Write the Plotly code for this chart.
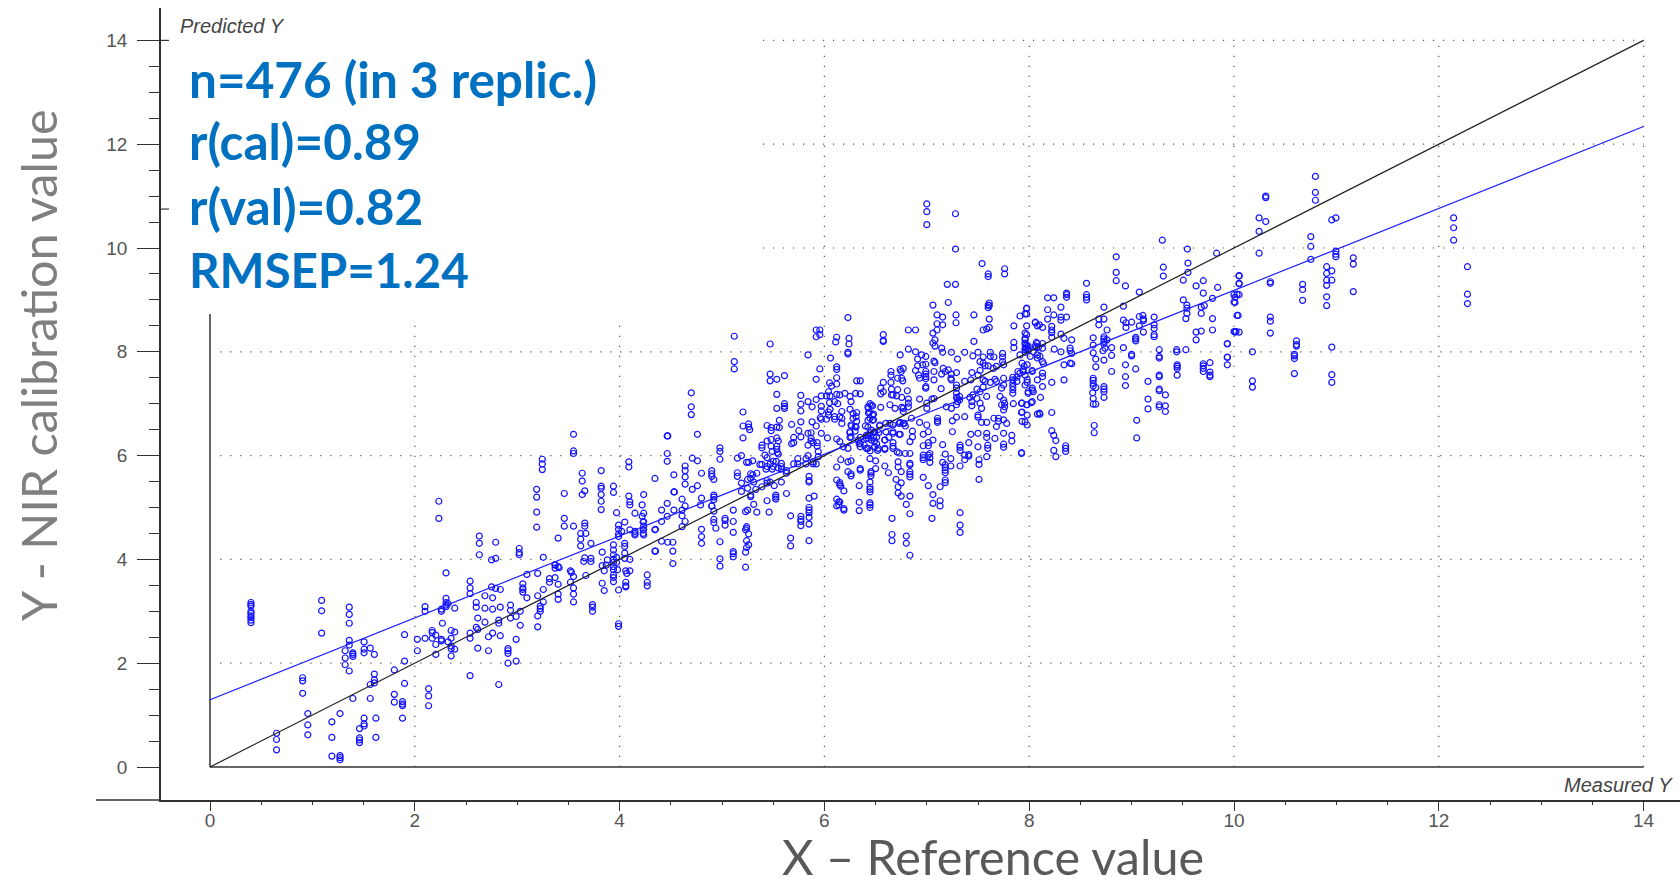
import plotly.graph_objects as go

stacks_low = [
 (0.40,[3.17,3.13,3.10,3.00,2.96,2.91,2.88,2.83,2.78]),(0.65,[0.65,0.53,0.33]),(0.905,[1.72,1.66,1.42]),
 (0.955,[1.03,0.81,0.62]),(1.09,[3.21,3.01,2.58]),(1.19,[0.87,0.57,0.21]),(1.27,[1.03,0.22,0.18,0.14]),
 (1.32,[2.24,2.10,1.97]),(1.36,[3.08,2.94,2.77,2.44,2.35,1.85]),(1.395,[2.20,2.17,2.13,1.32]),
 (1.46,[0.74,0.56,0.52,0.47]),(1.505,[2.41,2.27,2.20,0.94,0.83,0.79]),(1.565,[2.29,1.59,1.32]),
 (1.605,[2.17,1.79,1.68,1.62]),(1.62,[0.94,0.57]),(1.80,[1.87,1.40,1.25]),(1.88,[1.26,1.21,1.18,0.94]),
 (1.90,[2.55,2.04,1.61]),(2.025,[2.46,2.24]),(2.10,[3.09,3.00,2.48]),(2.135,[1.51,1.37,1.18]),
 (2.17,[2.63,2.59,2.48]),(2.205,[2.54,2.36,2.17]),(2.26,[3.04,3.00,2.46,2.43]),(2.27,[2.77]),
 (2.305,[3.74,3.25,3.17,3.12,3.09]),(2.325,[3.15,2.41]),(2.355,[2.63,2.48,2.33,2.28,2.14]),
 (2.39,[3.06,2.60,2.27]),(2.54,[3.58,3.45,3.34,2.58,2.48,1.76]),(2.60,[3.17,3.08,2.69]),
 (2.615,[2.87,2.65,2.29]),(2.685,[3.30,3.06,2.79]),(2.72,[2.51,2.24]),(2.75,[3.47,3.99]),
 (2.76,[3.26,3.04,2.58]),(2.79,[3.44,4.33,4.02]),(2.82,[2.83,2.77,1.59]),(2.835,[3.42,3.08,2.53]),
 (2.91,[2.28,2.24,2.19,2.00]),(2.935,[3.12,3.02,2.87]),(2.99,[2.90,2.46,2.04]),(3.03,[3.00,2.73]),
 (3.055,[3.53,3.45,3.42,3.37]),(3.095,[3.71,3.26]),(3.20,[3.73,3.30,2.91,2.70]),(3.225,[3.10,3.05,3.00]),
 (3.255,[3.42,3.18,4.04]),(3.315,[3.63,3.56]),(3.37,[3.90,3.83,3.65,3.89]),(3.40,[3.86,3.52,3.33,3.23,4.41]),
 (3.52,[3.78,3.56]),(3.55,[3.67,3.45,3.33,3.18,4.64]),(3.67,[3.69,4.50]),(3.735,[3.13,3.08,3.00]),
 (2.63,[4.45,4.31,4.09]),(3.02,[4.21,4.13,4.09]),(3.19,[4.62]),(3.46,[4.64]),(3.66,[4.70,4.64,4.03]),
 (3.62,[4.50,4.39,4.26]),(3.72,[4.31,4.02,3.96]),(3.83,[4.14,3.88,3.54]),(3.65,[3.96]),(3.41,[3.84]),
 (3.53,[3.75]),
]
stacks_four = [
 (3.88,[3.99]),(3.87,[3.89]),(3.85,[3.78,3.40]),(3.94,[4.28,4.18,4.09,4.00,3.94,3.86,3.80,3.70,3.65,3.57,5.41,5.29]),
 (3.97,[4.04,3.94,4.90]),(3.98,[3.80]),(3.99,[4.66,4.58,4.49,4.44,3.41,2.76,2.71]),(4.02,[4.54]),
 (4.05,[4.72,4.31,4.25,4.12,4.02]),(4.06,[3.78,3.56,3.49,3.47]),(4.10,[4.57,4.00,3.78,5.11,5.05]),
 (4.15,[4.54,4.47,4.89,4.50]),(4.23,[4.72,4.57,4.50]),(4.27,[3.70,3.56,3.49]),(4.35,[4.58,4.16]),
 (2.235,[5.12,4.79]),(3.245,[5.93,5.84,5.73]),(3.19,[5.35,5.20,4.91]),(3.55,[6.41,6.09,6.04]),
 (3.46,[5.27,4.79]),(3.635,[5.66,5.51,5.25]),(3.66,[5.32]),(3.82,[5.71,5.41,5.37,5.25,5.12,4.96]),
 (4.09,[5.88,5.78,5.22]),(4.235,[5.25,4.89,4.73,4.64,4.57,4.47]),(4.22,[5.05,4.83]),(4.345,[5.56,4.57,4.16]),
 (4.465,[6.38,6.04,5.89,5.08,4.83]),(4.41,[4.73,4.35,4.95]),(4.47,[4.33,6.38]),(4.52,[4.33,4.16,3.92]),
 (4.53,[5.63,5.30,4.95]),(4.64,[5.80,5.71,5.59,5.45,4.73,5.03]),(4.61,[5.16,4.95,4.84,4.63]),
 (4.71,[5.95,5.35]),(4.76,[6.41,5.90,5.42]),(4.70,[6.94,6.79,7.21]),(4.07,[3.73]),
]
stacks_five_upper = [
 (5.12,[8.30,7.81,7.67]),(5.47,[8.15,7.57,7.44]),(5.84,[7.94,7.04,6.43,6.20]),(5.92,[8.42,8.29,7.47,7.08,6.57]),
 (5.955,[8.42,8.33,7.67]),(6.12,[8.28,7.71,7.66,7.50,7.38,7.18,6.32]),(6.11,[8.19]),(6.06,[7.88]),(5.535,[7.47,7.18,6.91,6.55,6.34,6.18,6.12]),
 (5.61,[7.54,7.00,6.95,6.91]),(6.05,[7.40,7.02]),(6.07,[7.34]),(6.04,[7.23,6.84,6.78]),(6.02,[7.15,6.70]),
 (6.055,[7.15,6.89]),(5.97,[7.15,6.95,6.86,6.70,6.43]),(5.77,[7.16,6.99,6.86,6.65,6.36]),(5.88,[6.94,6.65]),
 (6.10,[7.04,6.75,6.70]),(6.13,[7.00]),(5.205,[6.84,6.57,6.34]),(5.96,[6.73]),(6.15,[6.75]),(5.56,[6.68,6.54]),
 (5.26,[6.61,6.55]),(5.27,[6.50]),(5.44,[6.58,6.28]),(5.48,[6.54,6.48,6.31,6.18]),(5.68,[6.60,6.23]),
 (5.75,[6.48]),(5.87,[6.44,6.33,6.28]),(6.03,[6.34]),(5.70,[6.35,6.25]),(5.55,[6.28]),(5.89,[6.25]),
 (5.93,[6.25,6.18]),(5.39,[6.20,6.15]),(4.98,[6.15]),
]
stacks_five_lower = [
 (4.98,[6.08,5.93,4.34,4.01,3.87]),(5.15,[5.95,5.67,5.60]),(5.19,[6.00,5.47,5.31]),(4.80,[5.66,5.18,4.58,4.44,4.31]),
 (4.90,[5.71,5.65,5.60,5.03]),(4.92,[5.54,5.24,5.20,5.15,4.93,4.77,4.71]),(4.535,[5.30]),(5.24,[5.87,4.63,4.60,4.36,4.23]),
 (5.26,[5.87,4.49,4.28]),(5.30,[5.90,5.63]),(5.37,[5.83]),(5.42,[6.01]),(5.44,[5.96,5.79,5.52,5.47,5.13]),
 (5.49,[6.08,5.74]),(5.54,[6.06]),(5.55,[6.03,5.76]),(5.39,[5.83,5.40]),(5.47,[5.84,5.49]),(5.50,[5.89,5.79]),
 (5.53,[5.89]),(5.43,[5.74]),(5.58,[5.85,5.79,5.74,5.49]),(5.63,[5.71,5.66,5.27]),(5.70,[5.84]),(5.74,[5.94,5.84]),
 (5.82,[5.94,5.84]),(5.84,[6.00]),(5.89,[5.88,5.84]),(5.94,[6.08,5.98]),(5.92,[5.84]),(5.85,[5.60,5.52,5.49,5.18,5.00,4.95,4.90,4.81,4.68,4.36]),
 (6.12,[5.78,5.53,5.16,5.03]),(5.34,[5.66,4.91]),(5.28,[5.65,5.56,5.24,5.21]),(5.25,[5.54,5.37,4.95]),(5.31,[5.49,5.06]),
 (5.33,[5.35]),(5.51,[5.42]),(5.90,[5.22]),(5.525,[5.24,5.20,5.16]),(6.14,[5.11,5.05]),(4.79,[5.05]),(4.90,[5.03]),
 (4.94,[4.60]),(5.11,[4.95,4.73,4.52,4.15,4.11,4.05]),(5.03,[4.79,4.75,4.66]),(5.23,[4.92,4.57,4.14,3.85]),
 (5.46,[4.91]),(5.67,[4.84,4.41,4.26]),(5.77,[4.83,4.77,4.73,4.65]),(6.15,[5.44]),
]
stacks_six_upper = [
 (6.23,[8.66,7.99,7.96]),(6.575,[8.33,8.22,8.20,7.41,7.23]),(6.24,[8.26,8.15]),(6.82,[8.42,8.05,7.09,7.01,6.94]),(6.89,[8.42,8.00,7.64]),
 (7.06,[8.90,8.36,8.17]),(7.21,[8.95,7.65]),(7.10,[8.71,8.54,8.42]),(7.155,[8.67,8.52,7.99]),(7.285,[8.71,8.56]),
 (7.46,[8.71,8.20]),(7.61,[8.94,8.89,8.63,8.47]),(7.585,[8.44,7.14,6.64]),(7.55,[8.42,7.90,7.78,7.46,7.32]),
 (7.85,[8.50,8.18,8.08]),(7.975,[8.83,8.13,6.98]),(7.91,[8.69,7.94]),(7.96,[8.73,8.36,8.26,8.17,8.07,7.99]),
 (8.06,[8.56]),(8.10,[8.52,6.82]),(7.08,[8.23,8.11,7.79]),(7.145,[8.07,7.57]),(8.07,[8.18,8.08]),(7.99,[8.04,7.20]),
 (6.74,[7.94,7.66,6.64]),(6.95,[7.94]),(6.91,[7.86,7.73]),(6.99,[7.91,7.76,7.62,7.57,7.52,7.48,7.33,7.30]),(6.96,[7.75]),
 (7.24,[7.99,7.57,7.46,6.91]),(7.37,[7.99,7.43,6.75]),(7.30,[7.86,7.10,7.04]),(7.07,[7.82,7.62,7.46,7.10]),
 (7.50,[7.99,7.55,6.78,6.74]),(7.45,[7.92,7.17]),(7.52,[7.81,7.64,7.23,7.01]),(7.62,[7.99,7.91,7.41]),(7.655,[7.90,6.72]),
 (7.57,[7.73,7.43]),(7.60,[7.73]),(7.74,[7.97,7.90,7.81]),(7.75,[7.75,7.49,7.36,7.07,6.88,6.69]),(7.68,[7.72,7.43,6.56]),(7.65,[7.68]),
 (8.01,[7.91]),(8.04,[8.00,7.23]),(7.93,[7.78,7.01,6.84,6.66]),(7.95,[7.72]),(7.98,[7.75,7.41,6.78,6.59]),(8.03,[7.64,7.30]),
 (6.77,[7.68,6.91,6.85,6.62]),(6.75,[7.62]),(6.65,[7.62,7.55,7.41]),(6.92,[7.55]),(6.93,[7.49,7.09,6.64]),(7.16,[7.68]),
 (7.18,[7.62]),(7.29,[7.60,7.36,7.30,7.20,7.12,6.98,6.74]),(7.235,[7.49]),(6.715,[7.49,7.27]),(6.755,[7.49,7.12,6.93]),(6.765,[7.44]),
 (6.655,[7.28,7.17]),(6.315,[7.44,6.83,6.66]),(6.35,[7.44,7.19]),(7.44,[7.60,7.04,6.96]),(7.43,[7.46]),(7.665,[7.47]),
 (7.73,[7.30,6.98]),(7.84,[7.51,7.46,7.39,7.33,7.27,7.20]),(7.88,[7.51,7.43]),(7.89,[7.62]),(7.94,[7.62]),(8.08,[7.46]),
 (6.55,[7.30,7.19,6.93]),(6.67,[7.17]),(6.705,[7.15]),(6.81,[7.25]),(7.14,[7.29]),(7.05,[7.09]),(7.32,[7.14,7.07]),
 (7.42,[7.12]),(7.49,[7.10,7.28]),(7.535,[6.91,6.64]),(7.715,[7.14]),(7.76,[7.01,6.94]),(7.845,[7.00]),(8.02,[7.02]),
 (7.00,[7.01,6.91,6.59]),(7.19,[6.94]),(6.15,[7.17]),(6.20,[7.20]),(6.25,[7.14,6.89]),(6.305,[7.20]),(6.26,[7.04]),
 (6.445,[7.00,6.72]),(6.47,[6.96]),(6.43,[6.91,6.82]),(6.64,[6.98,6.62]),(6.69,[6.91]),(6.48,[6.80,6.69]),(6.17,[6.85,6.72,6.62]),
 (7.25,[6.67]),(7.105,[6.72,6.67,6.64]),(7.70,[6.72,6.66]),(7.78,[6.62]),(6.54,[6.57]),(6.85,[6.72]),(6.79,[6.57]),
 (6.28,[6.72]),(6.30,[6.56]),(6.265,[6.57]),(6.40,[6.57]),
]
stacks_six_lower = [
 (6.25,[6.44,6.35]),(6.30,[6.47]),(6.35,[6.35,6.23,6.17,5.75,5.72]),(6.33,[6.30]),(6.41,[6.39,6.14]),(6.445,[6.44,6.09,5.94,5.49,5.39,5.35,5.30,5.09,5.05,5.00]),
 (6.48,[6.44,6.35]),(6.53,[6.44]),(6.43,[6.33]),(6.49,[6.28,6.17]),(6.15,[6.27,5.48,5.11]),(6.185,[6.17]),(6.23,[6.14,5.88,5.69]),
 (6.525,[6.14]),(6.59,[6.30,6.12,5.80]),(6.63,[6.35]),(6.67,[6.46,6.25,6.18,6.14]),(6.74,[6.41]),(6.86,[6.47,6.36]),(6.835,[6.27,6.04,5.85,5.82,5.69,5.64,5.59,5.22,4.88,4.08]),
 (6.965,[6.41,6.19,6.01,5.96,5.92,5.58]),(7.015,[6.46,6.19,6.25,6.01,5.42]),(6.71,[6.07]),(6.73,[6.05]),(6.79,[6.04]),(7.06,[6.30,5.25,5.08]),
 (7.155,[6.21,5.87]),(7.25,[6.46]),(7.325,[6.20,6.16,6.10,5.80,4.90,4.66,4.52]),(7.41,[6.25,6.02,5.99]),(7.43,[6.41]),(7.50,[6.43,6.17]),
 (7.585,[6.43,6.35,5.98]),(7.665,[6.33]),(7.75,[6.43,6.22,6.16]),(7.83,[6.39,6.28]),(7.595,[6.20,6.14]),(7.925,[6.04]),(7.03,[6.04,5.96,5.87]),
 (7.18,[6.03,5.82,5.77,5.72,5.67,5.53,5.48]),(7.235,[5.94,5.80]),(7.37,[6.01,5.92]),(7.51,[5.92,5.83,5.54]),(6.50,[5.90,5.75]),(6.26,[5.90,5.65,5.61]),
 (6.16,[5.92,5.41]),(6.455,[5.69,5.66,5.61]),(6.625,[5.67]),(6.72,[5.88,5.78,5.40,5.28]),(6.75,[5.69,5.475,5.22]),(6.70,[5.54]),
 (6.34,[5.42,5.10,4.94]),(6.19,[5.32,4.98,4.95]),(7.13,[5.40,5.13,5.03]),(6.80,[5.06,4.45,4.31]),(6.66,[4.79,4.48,4.36]),(7.05,[4.79]),
]
stacks_center = [
 (6.425,[6.94,6.68,6.55,6.39,6.14]),(6.458,[6.97,6.49,6.30]),(6.44,[6.84]),(6.47,[6.78,6.68]),(6.49,[6.46,6.17]),(6.51,[6.36,6.23]),
 (6.41,[6.33]),(6.28,[6.81]),(6.31,[6.75,6.55]),(6.26,[6.59,6.36]),(6.25,[6.46]),(6.34,[6.23]),(6.39,[6.20]),(6.54,[6.59]),
 (6.60,[6.62,6.46]),(6.67,[6.59,6.43]),(6.73,[6.62,6.41]),(6.78,[6.62]),(6.59,[6.30,6.14]),(6.52,[6.10]),
]
stacks_eight = [
 (8.85,[9.83,9.53,9.37]),(9.31,[9.63,9.46]),(9.55,[9.71,9.53]),(9.505,[9.38,9.00]),(10.05,[9.46,9.31,9.10,8.38]),(8.56,[9.32,9.10,9.05,9.00]),
 (8.94,[9.27,7.75,7.52,7.35]),(9.63,[9.27,8.38,8.23]),(9.70,[9.37,9.13,7.77,7.73,7.68,7.62]),(9.84,[9.24]),(9.075,[9.15,8.68,8.50]),
 (8.18,[9.04,8.81,8.63]),(8.24,[9.04,8.71,6.39,6.10]),(8.365,[9.13,9.10,9.05,8.67]),(9.54,[8.90,8.84,8.74]),(9.68,[8.86,8.74,8.40]),
 (9.71,[8.89]),(9.79,[9.03,8.64,8.42]),(10.01,[9.05,8.95,8.38]),(8.31,[8.86,8.67,8.61,8.34,8.00]),(8.73,[8.86,8.63,8.29,8.25,8.20,8.15,7.84,7.33,7.28,7.23,7.12]),
 (8.92,[8.88,8.61,8.08]),(7.975,[8.84,8.73,8.50,8.33,8.07]),(8.68,[8.63,8.52]),(9.11,[8.70]),(9.115,[8.63,8.60,8.38]),(9.22,[8.67,8.52,8.45,8.33,8.29]),
 (9.53,[8.64,8.04]),(8.06,[8.57,8.11]),(8.13,[8.47,8.07,8.16,7.81,7.59,7.52,7.33]),(8.08,[8.50,8.16,7.94,7.88,6.80]),(8.09,[8.09]),(8.22,[8.49,8.42,8.37,8.28,7.41,6.83,6.48]),
 (8.76,[8.42,8.23]),(8.945,[8.56,8.47]),(9.00,[8.57,7.95,7.92]),(8.625,[8.27,8.13,7.98,7.49,7.45,7.39,7.34,7.10,6.99]),(8.34,[8.26,7.75,7.46]),(8.415,[8.23,7.97,7.77]),
 (9.04,[8.28,8.25,8.21,7.67]),(9.935,[8.15,7.89,7.75,8.16,7.90]),(7.96,[8.23,8.15,8.04,7.55,7.36,6.65]),(7.99,[8.11,8.05,7.23]),(8.245,[8.05]),(8.40,[8.07,8.02,7.78]),
 (8.74,[8.07]),(8.72,[8.02]),(8.805,[8.08,7.93,7.62]),(9.27,[8.04,7.91,7.88,7.55,7.52,7.28,7.25,6.98,6.94]),(9.44,[8.04,8.00]),(8.105,[7.91,6.80]),(8.14,[7.77]),
 (8.65,[7.86,7.71,7.31,6.99]),(9.445,[7.75,7.72,7.68,7.55]),(9.765,[7.79,7.61,7.55,7.52]),(9.16,[7.43,7.09,6.90]),(8.62,[7.21]),(8.03,[7.26,7.04,7.62]),
 (8.11,[7.12]),(7.98,[6.98,7.46]),(7.925,[7.01,6.83,6.06]),(8.26,[6.29,5.98]),(8.356,[6.19,6.14,6.08]),(8.635,[6.58,6.44]),(9.05,[6.68,6.34]),(9.33,[7.17,6.96,6.85]),
 (7.94,[7.65]),(7.91,[7.59]),
]
stacks_high = [
 (10.795,[11.38,11.07,10.92]),(10.31,[11.00,10.97,10.51]),(10.245,[10.58,10.32,9.90]),(10.955,[10.54,9.56,9.38,8.09,7.56,7.41]),(10.995,[10.58,9.94,9.88,9.83]),
 (10.75,[10.22,10.03,9.78]),(11.165,[9.81,9.69,9.16]),(10.905,[9.64,9.51,9.38,9.28,9.06,8.89]),(10.05,[9.47,9.32]),(10.03,[9.11,8.70]),(10.00,[9.10,8.96,8.39]),(10.04,[8.70]),
 (10.02,[8.39]),(10.355,[9.35,9.32,8.67,8.59,8.36]),(10.67,[9.30,9.20,8.99]),(10.61,[8.21,8.14,8.11]),(10.59,[7.95,7.92,7.87,7.58]),(10.18,[8.00,7.44,7.32]),
 (12.145,[10.58,10.39,10.15]),(12.28,[9.64,9.11,8.93]),(9.30,[10.15]),(9.545,[9.98]),(9.83,[9.90]),
 (7.00,[10.85,10.70,10.45]),(7.28,[10.66,9.98]),(7.20,[9.30]),(7.28,[9.30]),(7.54,[9.70]),(7.60,[9.50,9.45,8.90,8.85]),(7.76,[9.60,9.50]),
]
line_ends_x = [0, 14]
identity_y = [0, 14]
regression_y = [1.295, 12.34]
x_ticks = [0, 2, 4, 6, 8, 10, 12, 14]
y_ticks = [0, 2, 4, 6, 8, 10, 12, 14]
minor_ticks = [v / 2 for v in range(0, 29)]
stat_lines = ["n=476 (in 3 replic.)", "r(cal)=0.89", "r(val)=0.82", "RMSEP=1.24"]

all_stacks = (stacks_low + stacks_four + stacks_five_upper + stacks_five_lower + stacks_six_upper
              + stacks_six_lower + stacks_center + stacks_eight + stacks_high)
measured = [x for x, ys in all_stacks for _ in ys]
predicted = [y for _, ys in all_stacks for y in ys]

# ---- layout calibration ----
W, H = 1680, 881
L, B, T = 161, 800, 8
X0, XU = 210.0, 102.4
Y0, YU = 767.0, 51.9
x_range = [(L - X0) / XU, (W - X0) / XU]
y_range = [(Y0 - B) / YU, (Y0 - T) / YU]
def px(x): return (x - L) / (W - L)
def py(y): return (B - y) / (B - T)

AX = "#333333"
GRID = "#555555"
fig = go.Figure()

def grid(xs, ys):
    fig.add_trace(go.Scatter(x=xs, y=ys, mode="lines", hoverinfo="skip",
                             line=dict(color=GRID, width=1.2, dash="1.2px,8.8px")))
vert_top_short = 8.63
h_start_low = 0.1
h_start_high = 5.4
for v in [2, 4]:
    grid([v, v], [0, vert_top_short])
for v in [6, 8, 10, 12, 14]:
    grid([v, v], [0, 14])
for v in [2, 4, 6, 8]:
    grid([h_start_low, 14], [v, v])
for v in [10, 12, 14]:
    grid([h_start_high, 14], [v, v])

# inner axes
fig.add_trace(go.Scatter(x=[0, 14], y=[0, 0], mode="lines", line=dict(color=AX, width=1.5), hoverinfo="skip"))
fig.add_trace(go.Scatter(x=[0, 0], y=[0, 8.73], mode="lines", line=dict(color=AX, width=1.5), hoverinfo="skip"))
# small inner spurs on the outer axis
for v in [14, 10.75]:
    fig.add_trace(go.Scatter(x=[x_range[0], x_range[0] + 8 / XU], y=[v, v], mode="lines",
                             line=dict(color=AX, width=1.2), hoverinfo="skip"))

fig.add_trace(go.Scatter(x=measured, y=predicted, mode="markers", hoverinfo="skip",
                         marker=dict(symbol="circle-open", size=6, color="#1414ff", line=dict(width=1.2, color="#1414ff"))))
fig.add_trace(go.Scatter(x=line_ends_x, y=identity_y, mode="lines", line=dict(color="#222222", width=1.2), hoverinfo="skip"))
fig.add_trace(go.Scatter(x=line_ends_x, y=regression_y, mode="lines", line=dict(color="#1a1aff", width=1.2), hoverinfo="skip"))

shapes = [dict(type="line", xref="paper", yref="paper", x0=px(96), x1=px(L), y0=0, y1=0,
               line=dict(color=AX, width=1.5))]

ann = []
for txt, yc, fs in zip(stat_lines, [79, 141, 206, 269], [49.5, 49.5, 49.5, 47.5]):
    ann.append(dict(text=txt, x=px(187), y=py(yc), xref="paper", yref="paper", xanchor="left", yanchor="middle",
                    showarrow=False, font=dict(family="Lato", size=fs, color="#0070C0", weight=700)))
ann.append(dict(text="Predicted Y", x=px(178), y=py(26), xref="paper", yref="paper", xanchor="left", yanchor="middle",
                showarrow=False, font=dict(family="Liberation Sans", size=20, color="#444444", style="italic")))
ann.append(dict(text="Measured Y", x=px(1675), y=py(785), xref="paper", yref="paper", xanchor="right", yanchor="middle",
                showarrow=False, font=dict(family="Liberation Sans", size=20, color="#444444", style="italic")))
ann.append(dict(text="X – Reference value", x=px(993), y=py(856), xref="paper", yref="paper", xanchor="center", yanchor="middle",
                showarrow=False, font=dict(family="Lato", size=48.5, color="#595959")))
ann.append(dict(text="Y - NIR calibration value", x=px(38), y=py(365), xref="paper", yref="paper", xanchor="center", yanchor="middle",
                textangle=-90, showarrow=False, font=dict(family="Lato", size=48.5, color="#7f7f7f")))

tick_font = dict(family="Liberation Sans", size=19, color="#555555")
fig.update_layout(
    width=W, height=H, showlegend=False, paper_bgcolor="white", plot_bgcolor="white",
    margin=dict(l=L, r=0, t=T, b=H - B, pad=0), shapes=shapes, annotations=ann,
    xaxis=dict(range=x_range, tickmode="array", tickvals=x_ticks, ticks="outside", ticklen=9, tickcolor=AX,
               showgrid=False, zeroline=False, showline=True, linecolor=AX, linewidth=1.5, tickfont=tick_font,
               ticklabelstandoff=-7,
               minor=dict(tickmode="array", tickvals=minor_ticks, ticks="outside", ticklen=3, tickcolor=AX, showgrid=False)),
    yaxis=dict(range=y_range, tickmode="array", tickvals=y_ticks, ticks="outside", ticklen=22, tickcolor=AX,
               showgrid=False, zeroline=False, showline=True, linecolor=AX, linewidth=1.5, tickfont=tick_font,
               ticklabelstandoff=6,
               minor=dict(tickmode="array", tickvals=minor_ticks, ticks="outside", ticklen=10, tickcolor=AX, showgrid=False)),
)
fig.write_html("out.html", config=dict(displayModeBar=False),
               post_script="document.body.style.margin='0';document.body.style.overflow='hidden';")
